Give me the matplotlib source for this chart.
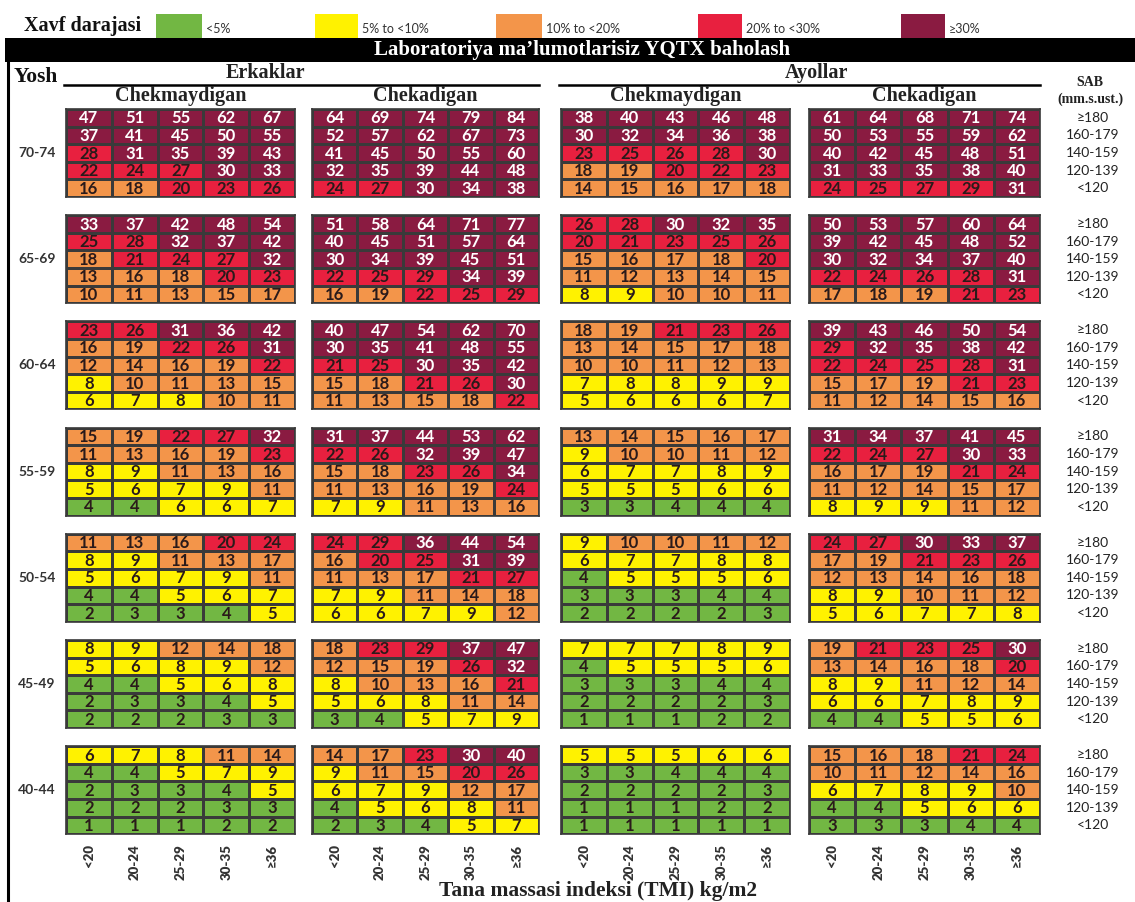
import matplotlib
matplotlib.use('Agg')
import matplotlib.pyplot as plt
import numpy as np
from matplotlib.colors import ListedColormap, BoundaryNorm
from matplotlib.patches import Rectangle
from matplotlib.lines import Line2D

# ---------------- data ----------------
ages = ["70-74", "65-69", "60-64", "55-59", "50-54", "45-49", "40-44"]
sbp_labels = ["≥180", "160-179", "140-159", "120-139", "<120"]
bmi_labels = ["<20", "20-24", "25-29", "30-35", "≥36"]
risk_bounds = [0, 5, 10, 20, 30, 100]
risk_labels = ["<5%", "5% to <10%", "10% to <20%", "20% to <30%", "≥30%"]
risk_colors = ["#72B743", "#FFF200", "#F3954A", "#E8203F", "#8A1B41"]

men_nonsmoker = [
    [[47, 51, 55, 62, 67], [37, 41, 45, 50, 55], [28, 31, 35, 39, 43], [22, 24, 27, 30, 33], [16, 18, 20, 23, 26]],
    [[33, 37, 42, 48, 54], [25, 28, 32, 37, 42], [18, 21, 24, 27, 32], [13, 16, 18, 20, 23], [10, 11, 13, 15, 17]],
    [[23, 26, 31, 36, 42], [16, 19, 22, 26, 31], [12, 14, 16, 19, 22], [8, 10, 11, 13, 15], [6, 7, 8, 10, 11]],
    [[15, 19, 22, 27, 32], [11, 13, 16, 19, 23], [8, 9, 11, 13, 16], [5, 6, 7, 9, 11], [4, 4, 6, 6, 7]],
    [[11, 13, 16, 20, 24], [8, 9, 11, 13, 17], [5, 6, 7, 9, 11], [4, 4, 5, 6, 7], [2, 3, 3, 4, 5]],
    [[8, 9, 12, 14, 18], [5, 6, 8, 9, 12], [4, 4, 5, 6, 8], [2, 3, 3, 4, 5], [2, 2, 2, 3, 3]],
    [[6, 7, 8, 11, 14], [4, 4, 5, 7, 9], [2, 3, 3, 4, 5], [2, 2, 2, 3, 3], [1, 1, 1, 2, 2]],
]
men_smoker = [
    [[64, 69, 74, 79, 84], [52, 57, 62, 67, 73], [41, 45, 50, 55, 60], [32, 35, 39, 44, 48], [24, 27, 30, 34, 38]],
    [[51, 58, 64, 71, 77], [40, 45, 51, 57, 64], [30, 34, 39, 45, 51], [22, 25, 29, 34, 39], [16, 19, 22, 25, 29]],
    [[40, 47, 54, 62, 70], [30, 35, 41, 48, 55], [21, 25, 30, 35, 42], [15, 18, 21, 26, 30], [11, 13, 15, 18, 22]],
    [[31, 37, 44, 53, 62], [22, 26, 32, 39, 47], [15, 18, 23, 26, 34], [11, 13, 16, 19, 24], [7, 9, 11, 13, 16]],
    [[24, 29, 36, 44, 54], [16, 20, 25, 31, 39], [11, 13, 17, 21, 27], [7, 9, 11, 14, 18], [6, 6, 7, 9, 12]],
    [[18, 23, 29, 37, 47], [12, 15, 19, 26, 32], [8, 10, 13, 16, 21], [5, 6, 8, 11, 14], [3, 4, 5, 7, 9]],
    [[14, 17, 23, 30, 40], [9, 11, 15, 20, 26], [6, 7, 9, 12, 17], [4, 5, 6, 8, 11], [2, 3, 4, 5, 7]],
]
women_nonsmoker = [
    [[38, 40, 43, 46, 48], [30, 32, 34, 36, 38], [23, 25, 26, 28, 30], [18, 19, 20, 22, 23], [14, 15, 16, 17, 18]],
    [[26, 28, 30, 32, 35], [20, 21, 23, 25, 26], [15, 16, 17, 18, 20], [11, 12, 13, 14, 15], [8, 9, 10, 10, 11]],
    [[18, 19, 21, 23, 26], [13, 14, 15, 17, 18], [10, 10, 11, 12, 13], [7, 8, 8, 9, 9], [5, 6, 6, 6, 7]],
    [[13, 14, 15, 16, 17], [9, 10, 10, 11, 12], [6, 7, 7, 8, 9], [5, 5, 5, 6, 6], [3, 3, 4, 4, 4]],
    [[9, 10, 10, 11, 12], [6, 7, 7, 8, 8], [4, 5, 5, 5, 6], [3, 3, 3, 4, 4], [2, 2, 2, 2, 3]],
    [[7, 7, 7, 8, 9], [4, 5, 5, 5, 6], [3, 3, 3, 4, 4], [2, 2, 2, 2, 3], [1, 1, 1, 2, 2]],
    [[5, 5, 5, 6, 6], [3, 3, 4, 4, 4], [2, 2, 2, 2, 3], [1, 1, 1, 2, 2], [1, 1, 1, 1, 1]],
]
women_smoker = [
    [[61, 64, 68, 71, 74], [50, 53, 55, 59, 62], [40, 42, 45, 48, 51], [31, 33, 35, 38, 40], [24, 25, 27, 29, 31]],
    [[50, 53, 57, 60, 64], [39, 42, 45, 48, 52], [30, 32, 34, 37, 40], [22, 24, 26, 28, 31], [17, 18, 19, 21, 23]],
    [[39, 43, 46, 50, 54], [29, 32, 35, 38, 42], [22, 24, 25, 28, 31], [15, 17, 19, 21, 23], [11, 12, 14, 15, 16]],
    [[31, 34, 37, 41, 45], [22, 24, 27, 30, 33], [16, 17, 19, 21, 24], [11, 12, 14, 15, 17], [8, 9, 9, 11, 12]],
    [[24, 27, 30, 33, 37], [17, 19, 21, 23, 26], [12, 13, 14, 16, 18], [8, 9, 10, 11, 12], [5, 6, 7, 7, 8]],
    [[19, 21, 23, 25, 30], [13, 14, 16, 18, 20], [8, 9, 11, 12, 14], [6, 6, 7, 8, 9], [4, 4, 5, 5, 6]],
    [[15, 16, 18, 21, 24], [10, 11, 12, 14, 16], [6, 7, 8, 9, 10], [4, 4, 5, 6, 6], [3, 3, 3, 4, 4]],
]

# ---------------- layout ----------------
W, H = 1135, 902
fig = plt.figure(figsize=(W / 100, H / 100), dpi=100)
fig.patch.set_facecolor("white")

SANS = ["Lato", "DejaVu Sans"]
SERIF = ["Liberation Serif", "DejaVu Serif"]


def fx(x):
    return x / W


def fy(y):
    return 1 - y / H


def ftext(x, y, s, **kw):
    fig.text(fx(x), fy(y), s, **kw)


cmap = ListedColormap(risk_colors)
norm = BoundaryNorm(risk_bounds, cmap.N)

# legend row
ftext(24, 26, "Xavf darajasi", ha="left", va="center", fontsize=14.5,
      fontweight="bold", family=SERIF, color="#111111")
swatch_x = [(156, 202), (315, 358), (496, 542), (698, 742), (901, 945)]
for (x0, x1), col, lab in zip(swatch_x, risk_colors, risk_labels):
    fig.add_artist(Rectangle((fx(x0), fy(38)), (x1 - x0) / W, 24 / H,
                             transform=fig.transFigure, facecolor=col,
                             edgecolor="none"))
    ftext(x1 + 4, 29, lab, ha="left", va="center", fontsize=9,
          family=SANS, color="#333333")

# title bar
fig.add_artist(Rectangle((fx(5), fy(62)), (W - 5) / W, 24 / H,
                         transform=fig.transFigure, facecolor="black",
                         edgecolor="none"))
ftext(582, 50, "Laboratoriya ma’lumotlarisiz YQTX baholash", ha="center",
      va="center", fontsize=15, fontweight="bold", family=SERIF, color="white")

# left frame line
fig.add_artist(Line2D([fx(8), fx(8)], [fy(62), fy(902)], color="black",
                      lw=2.2, transform=fig.transFigure))

# headers
ftext(14, 77, "Yosh", ha="left", va="center", fontsize=15.5, fontweight="bold",
      family=SERIF, color="#111111")
ftext(265, 73, "Erkaklar", ha="center", va="center", fontsize=14.5,
      fontweight="bold", family=SERIF, color="#222222")
ftext(816, 73, "Ayollar", ha="center", va="center", fontsize=14.5,
      fontweight="bold", family=SERIF, color="#222222")
fig.add_artist(Line2D([fx(64), fx(539)], [fy(85), fy(85)], color="black",
                      lw=1.8, transform=fig.transFigure))
fig.add_artist(Line2D([fx(559), fx(1040)], [fy(85), fy(85)], color="black",
                      lw=1.8, transform=fig.transFigure))
ftext(1090, 82, "SAB", ha="center", va="center", fontsize=10,
      fontweight="bold", family=SERIF, color="#222222")
ftext(1090, 99, "(mm.s.ust.)", ha="center", va="center", fontsize=10,
      fontweight="bold", family=SERIF, color="#222222")

panels = [men_nonsmoker, men_smoker, women_nonsmoker, women_smoker]
panel_titles = ["Chekmaydigan", "Chekadigan", "Chekmaydigan", "Chekadigan"]
panel_x = [(66, 295), (312, 539), (561, 790), (809, 1040)]
block_top0, block_step, block_h = 109, 106.2, 88

for data, title, (x0, x1) in zip(panels, panel_titles, panel_x):
    ftext((x0 + x1) / 2, 96, title, ha="center", va="center", fontsize=14.5,
          fontweight="bold", family=SERIF, color="#222222")
    for i, age in enumerate(ages):
        top = block_top0 + block_step * i
        ax = fig.add_axes([fx(x0), fy(top + block_h), (x1 - x0) / W, block_h / H])
        arr = np.array(data[i])
        ax.pcolormesh(arr, cmap=cmap, norm=norm, edgecolors="#3a3a3a",
                      linewidth=0.9)
        ax.set_xlim(0, 5)
        ax.set_ylim(5, 0)
        ax.set_yticks([])
        for sp in ax.spines.values():
            sp.set_color("#3a3a3a")
            sp.set_linewidth(1.2)
        for r in range(arr.shape[0]):
            for c in range(arr.shape[1]):
                v = arr[r, c]
                ax.text(c + 0.5, r + 0.53, str(v), ha="center", va="center",
                        fontsize=12, fontweight="bold", family=SANS,
                        color="white" if v >= 30 else "#2a1a1a")
        if i == len(ages) - 1:
            ax.set_xticks(np.arange(5) + 0.5)
            ax.set_xticklabels(bmi_labels, rotation=90, fontsize=9.5,
                               fontweight="heavy", family=SANS, color="#333333")
            ax.tick_params(axis="x", length=0, pad=7)
        else:
            ax.set_xticks([])

for i, age in enumerate(ages):
    top = block_top0 + block_step * i
    ftext(37, top + block_h / 2, age, ha="center", va="center", fontsize=10,
          fontweight="bold", family=SANS, color="#333333")
    for r, lab in enumerate(sbp_labels):
        ftext(1093, top + block_h * (r + 0.5) / 5, lab, ha="center",
              va="center", fontsize=10, family=SANS, color="#222222")

ftext(598, 891, "Tana massasi indeksi (TMI) kg/m2", ha="center", va="center",
      fontsize=15.5, fontweight="bold", family=SERIF, color="#222222")

fig.savefig("out.png", dpi=100, facecolor="white")
